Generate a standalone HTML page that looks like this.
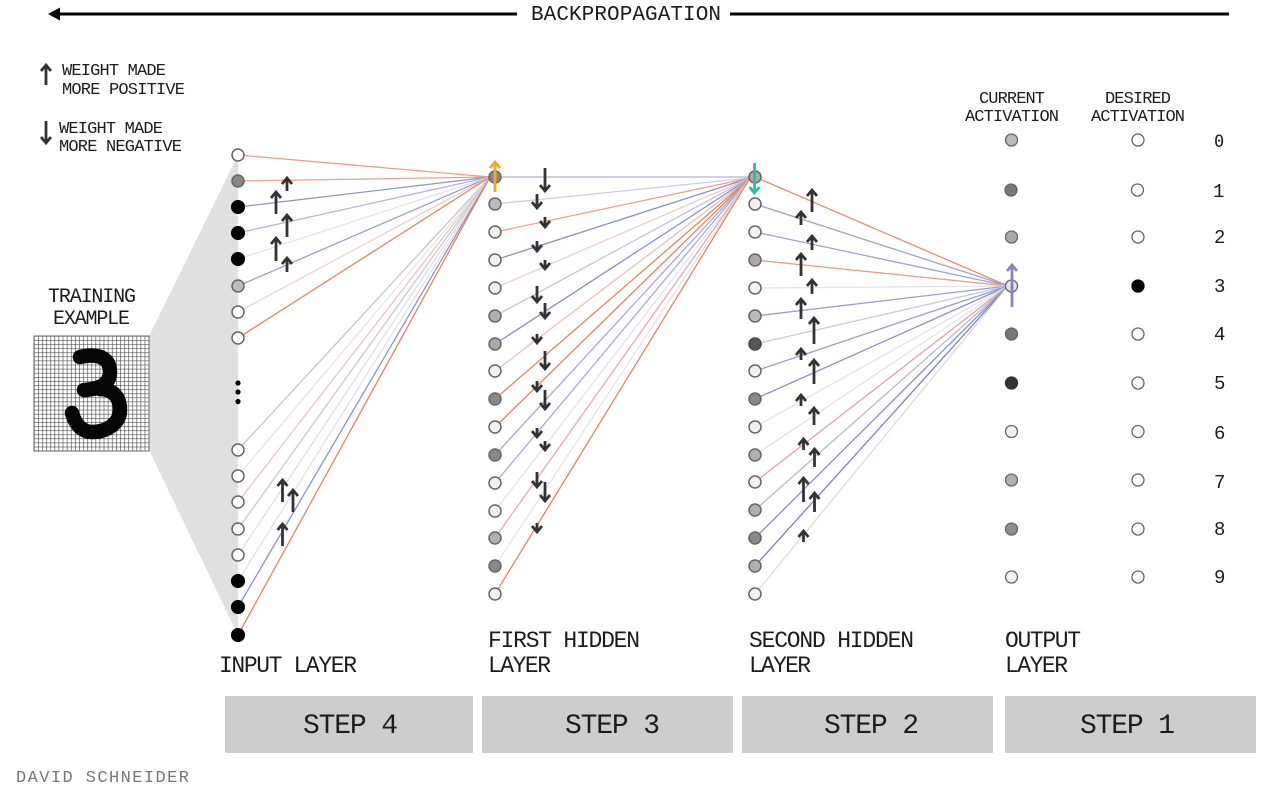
<!DOCTYPE html>
<html><head><meta charset="utf-8"><style>
html,body{margin:0;padding:0;background:#fff}
svg{display:block}
text{font-family:"Liberation Mono","DejaVu Sans Mono",monospace;fill:#1c1c1c}
</style></head><body>
<svg width="1280" height="795" viewBox="0 0 1280 795" xmlns="http://www.w3.org/2000/svg">
<defs>
<pattern id="g" x="34" y="336" width="4.1" height="4.1" patternUnits="userSpaceOnUse">
<rect width="4.1" height="4.1" fill="#fff"/>
<path d="M0 0H4.1M0 0V4.1" stroke="#444" stroke-width="1.2" fill="none"/>
</pattern>
</defs>
<rect width="1280" height="795" fill="#fff"/>

<!-- top arrow -->
<path d="M60 14H517M730 14H1229" stroke="#000" stroke-width="3" fill="none"/>
<polygon points="48,14 60,7.5 60,20.5" fill="#000"/>
<text x="531" y="20" font-size="21" textLength="190" lengthAdjust="spacing">BACKPROPAGATION</text>

<!-- legend -->
<g stroke="#333" stroke-width="2.8" fill="none">
<path d="M46 85V65M41 71L46 65L51 71"/>
<path d="M46 121V143M41 137L46 143L51 137"/>
</g>
<g font-size="17">
<text x="62" y="75" textLength="104" lengthAdjust="spacing">WEIGHT MADE</text>
<text x="62" y="94" textLength="123" lengthAdjust="spacing">MORE POSITIVE</text>
<text x="59" y="133" textLength="104" lengthAdjust="spacing">WEIGHT MADE</text>
<text x="59" y="151" textLength="123" lengthAdjust="spacing">MORE NEGATIVE</text>
</g>

<!-- training example -->
<text x="48" y="302" font-size="20" textLength="88" lengthAdjust="spacing">TRAINING</text>
<text x="53" y="324" font-size="20" textLength="77" lengthAdjust="spacing">EXAMPLE</text>
<polygon points="149,336 238,155 238,635 149,450" fill="#e0e0e1"/>
<rect x="34" y="336" width="115" height="115" fill="url(#g)" stroke="#666" stroke-width="1"/>
<path d="M80 357C92 354 110 354 110 372C110 384 100 389 84 390M100 389C114 389 120 398 120 410C120 424 106 432 92 432C82 432 75 424 72 413" fill="none" stroke="#050505" stroke-width="14.5" stroke-linecap="round" stroke-linejoin="round"/>

<!-- lines: input to first hidden -->
<g fill="none" stroke-width="1.3">
<path stroke="#e8a08a" d="M238 155L490 177"/>
<path stroke="#e9a08c" d="M238 181L490 177"/>
<path stroke="#8e94c4" d="M238 207L490 177"/>
<path stroke="#b5b5d6" d="M238 233L490 177"/>
<path stroke="#e6e2e4" d="M238 259L490 177"/>
<path stroke="#9a9dcb" d="M238 286L490 177"/>
<path stroke="#eccfcc" d="M238 312L490 177"/>
<path stroke="#e08468" d="M238 338L490 177"/>
<path stroke="#c4c4d0" d="M238 450L490 177"/>
<path stroke="#e6e4e6" d="M238 476L490 177"/>
<path stroke="#e8c4c0" d="M238 502L490 177"/>
<path stroke="#c8c8d4" d="M238 529L490 177"/>
<path stroke="#dddde2" d="M238 555L490 177"/>
<path stroke="#e2e0e2" d="M238 581L490 177"/>
<path stroke="#8e94c4" d="M238 607L490 177"/>
<path stroke="#e08468" d="M238 635L490 177"/>
</g>
<!-- lines: first to second hidden -->
<g fill="none" stroke-width="1.3">
<path stroke="#b4b4d4" d="M495 177L750 177"/>
<path stroke="#ccccde" d="M495 204L750 178"/>
<path stroke="#ea9f88" d="M495 232L750 178"/>
<path stroke="#8a90c2" d="M495 260L750 178"/>
<path stroke="#eccfcc" d="M495 288L750 178"/>
<path stroke="#c4c4da" d="M495 316L750 178"/>
<path stroke="#8a90c2" d="M495 344L750 178"/>
<path stroke="#e8c0bc" d="M495 371L750 178"/>
<path stroke="#e08468" d="M495 399L750 178"/>
<path stroke="#e08468" d="M495 427L750 178"/>
<path stroke="#aaaad0" d="M495 455L750 178"/>
<path stroke="#aaaad0" d="M495 483L750 178"/>
<path stroke="#e4e2e4" d="M495 511L750 178"/>
<path stroke="#e0aab0" d="M495 538L750 178"/>
<path stroke="#e6e4e6" d="M495 566L750 178"/>
<path stroke="#e08468" d="M495 594L750 178"/>
</g>
<!-- lines: second hidden to output -->
<g fill="none" stroke-width="1.3">
<path stroke="#e08f78" d="M755 177L1008 286"/>
<path stroke="#a0a0ce" d="M755 204L1008 286"/>
<path stroke="#a0a0ce" d="M755 232L1008 286"/>
<path stroke="#e89a84" d="M755 260L1008 286"/>
<path stroke="#e4e2e8" d="M755 288L1008 286"/>
<path stroke="#9a9ecb" d="M755 316L1008 286"/>
<path stroke="#c8c8dc" d="M755 344L1008 286"/>
<path stroke="#9a9ecb" d="M755 371L1008 286"/>
<path stroke="#8a90c2" d="M755 399L1008 286"/>
<path stroke="#e6e4e6" d="M755 427L1008 286"/>
<path stroke="#e4e2e4" d="M755 455L1008 286"/>
<path stroke="#e0a0a8" d="M755 482L1008 286"/>
<path stroke="#b8b8d0" d="M755 510L1008 286"/>
<path stroke="#8a90c2" d="M755 538L1008 286"/>
<path stroke="#7a80ba" d="M755 566L1008 286"/>
<path stroke="#e6d6d6" d="M755 594L1008 286"/>
</g>

<!-- input nodes -->
<g stroke="#666" stroke-width="1.5">
<circle cx="238" cy="155" r="6" fill="#fff"/>
<circle cx="238" cy="181" r="6" fill="#888"/>
<circle cx="238" cy="207" r="6.3" fill="#000" stroke="#000"/>
<circle cx="238" cy="233" r="6.3" fill="#000" stroke="#000"/>
<circle cx="238" cy="259" r="6.3" fill="#000" stroke="#000"/>
<circle cx="238" cy="286" r="6" fill="#bbb"/>
<circle cx="238" cy="312" r="6" fill="#fff"/>
<circle cx="238" cy="338" r="6" fill="#fff"/>
<circle cx="238" cy="450" r="6" fill="#fff"/>
<circle cx="238" cy="476" r="6" fill="#fff"/>
<circle cx="238" cy="502" r="6" fill="#fff"/>
<circle cx="238" cy="529" r="6" fill="#fff"/>
<circle cx="238" cy="555" r="6" fill="#fff"/>
<circle cx="238" cy="581" r="6.3" fill="#000" stroke="#000"/>
<circle cx="238" cy="607" r="6.3" fill="#000" stroke="#000"/>
<circle cx="238" cy="635" r="6.3" fill="#000" stroke="#000"/>
</g>
<g fill="#000">
<circle cx="238" cy="383" r="2.6"/><circle cx="238" cy="392" r="2.6"/><circle cx="238" cy="401.5" r="2.6"/>
</g>

<!-- first hidden nodes -->
<g stroke="#666" stroke-width="1.5">
<circle cx="495" cy="177" r="6" fill="#888"/>
<circle cx="495" cy="204" r="6" fill="#bbb"/>
<circle cx="495" cy="232" r="6" fill="#f0f0f0"/>
<circle cx="495" cy="260" r="6" fill="#f0f0f0"/>
<circle cx="495" cy="288" r="6" fill="#f0f0f0"/>
<circle cx="495" cy="316" r="6" fill="#b0b0b0"/>
<circle cx="495" cy="344" r="6" fill="#aaa"/>
<circle cx="495" cy="371" r="6" fill="#f0f0f0"/>
<circle cx="495" cy="399" r="6" fill="#888"/>
<circle cx="495" cy="427" r="6" fill="#f0f0f0"/>
<circle cx="495" cy="455" r="6" fill="#888"/>
<circle cx="495" cy="483" r="6" fill="#f0f0f0"/>
<circle cx="495" cy="511" r="6" fill="#f0f0f0"/>
<circle cx="495" cy="538" r="6" fill="#b0b0b0"/>
<circle cx="495" cy="566" r="6" fill="#888"/>
<circle cx="495" cy="594" r="6" fill="#f0f0f0"/>
</g>
<!-- second hidden nodes -->
<g stroke="#666" stroke-width="1.5">
<circle cx="755" cy="177" r="6" fill="#aaa"/>
<circle cx="755" cy="204" r="6" fill="#f0f0f0"/>
<circle cx="755" cy="232" r="6" fill="#f0f0f0"/>
<circle cx="755" cy="260" r="6" fill="#aaa"/>
<circle cx="755" cy="288" r="6" fill="#f0f0f0"/>
<circle cx="755" cy="316" r="6" fill="#bbb"/>
<circle cx="755" cy="344" r="6" fill="#555" stroke="#444"/>
<circle cx="755" cy="371" r="6" fill="#f0f0f0"/>
<circle cx="755" cy="399" r="6" fill="#888"/>
<circle cx="755" cy="427" r="6" fill="#f0f0f0"/>
<circle cx="755" cy="455" r="6" fill="#b0b0b0"/>
<circle cx="755" cy="482" r="6" fill="#f0f0f0"/>
<circle cx="755" cy="510" r="6" fill="#b0b0b0"/>
<circle cx="755" cy="538" r="6" fill="#888"/>
<circle cx="755" cy="566" r="6" fill="#b0b0b0"/>
<circle cx="755" cy="594" r="6" fill="#f0f0f0"/>
</g>
<!-- output nodes -->
<g stroke="#666" stroke-width="1.3">
<circle cx="1011.5" cy="140" r="6" fill="#bbb"/>
<circle cx="1011" cy="190" r="6" fill="#777"/>
<circle cx="1011.5" cy="237" r="6" fill="#aaa"/>
<circle cx="1011.5" cy="286" r="6" fill="#e4e4e4"/>
<circle cx="1011.5" cy="334" r="6" fill="#777"/>
<circle cx="1011.5" cy="383" r="6" fill="#333" stroke="#333"/>
<circle cx="1011.5" cy="431.5" r="6" fill="#f0f0f0"/>
<circle cx="1011.5" cy="480" r="6" fill="#b0b0b0"/>
<circle cx="1011.5" cy="529" r="6" fill="#909090"/>
<circle cx="1011.5" cy="577" r="6" fill="#f0f0f0"/>
<circle cx="1138" cy="140" r="6" fill="#fff"/>
<circle cx="1137.5" cy="190" r="6" fill="#fff"/>
<circle cx="1138" cy="237" r="6" fill="#fff"/>
<circle cx="1138" cy="286" r="6" fill="#000" stroke="#000"/>
<circle cx="1138" cy="334" r="6" fill="#fff"/>
<circle cx="1138" cy="383" r="6" fill="#fff"/>
<circle cx="1138" cy="431.5" r="6" fill="#fff"/>
<circle cx="1138" cy="480" r="6" fill="#fff"/>
<circle cx="1138" cy="529" r="6" fill="#fff"/>
<circle cx="1138" cy="577" r="6" fill="#fff"/>
</g>

<!-- up arrows, input layer -->
<g stroke="#333" stroke-width="2.8" fill="none">
<path d="M287 191V178M282 184L287 178L292 184"/>
<path d="M276 214V192M271 198L276 192L281 198"/>
<path d="M287 237V215M282 221L287 215L292 221"/>
<path d="M276 261V238M271 244L276 238L281 244"/>
<path d="M287 272V258M282 264L287 258L292 264"/>
<path d="M282.5 502V480M277.5 486L282.5 480L287.500 486"/>
<path d="M293 512V490M288 496L293 490L298 496"/>
<path d="M282.5 546V524M277.5 530L282.5 524L287.500 530"/>
</g>
<!-- down arrows, first hidden -->
<g stroke="#333" stroke-width="2.8" fill="none">
<path d="M545 168V191M540 185L545 191L550 185"/>
<path d="M537 194V208M532 202L537 208L542 202"/>
<path d="M545 217V227M540 221L545 227L550 221"/>
<path d="M537 241V251M532 245L537 251L542 245"/>
<path d="M545 260V269M540 263L545 269L550 263"/>
<path d="M537 286V302M532 296L537 302L542 296"/>
<path d="M545 303V318M540 312L545 318L550 312"/>
<path d="M537 334V343M532 337L537 343L542 337"/>
<path d="M545 351V369M540 363L545 369L550 363"/>
<path d="M537 381V391M532 385L537 391L542 385"/>
<path d="M545 390V409M540 403L545 409L550 403"/>
<path d="M537 428V437M532 431L537 437L542 431"/>
<path d="M545 441V450M540 444L545 450L550 444"/>
<path d="M537 472V487M532 481L537 487L542 481"/>
<path d="M545 482V501M540 495L545 501L550 495"/>
<path d="M537 523V532M532 526L537 532L542 526"/>
</g>
<!-- up arrows, second hidden -->
<g stroke="#333" stroke-width="2.8" fill="none">
<path d="M812 212V190M807 196L812 190L817 196"/>
<path d="M801 225V212M796 218L801 212L806 218"/>
<path d="M812 250V236M807 242L812 236L817 242"/>
<path d="M801 276V254M796 260L801 254L806 260"/>
<path d="M812 294V280M807 286L812 280L817 286"/>
<path d="M801 319V299M796 305L801 299L806 305"/>
<path d="M814 344V318M809 324L814 318L819 324"/>
<path d="M801 360V349M796 355L801 349L806 355"/>
<path d="M814 384V360M809 366L814 360L819 366"/>
<path d="M801 406V395M796 401L801 395L806 401"/>
<path d="M814 425V408M809 414L814 408L819 414"/>
<path d="M803.5 450V439M798.5 445L803.5 439L808.5 445"/>
<path d="M814.5 467V449M809.5 455L814.5 449L819.5 455"/>
<path d="M803.5 502V478M798.5 484L803.5 478L808.5 484"/>
<path d="M814.5 512V493M809.5 499L814.5 493L819.5 499"/>
<path d="M803.5 542V531M798.5 537L803.5 531L808.5 537"/>
</g>

<!-- coloured arrows -->
<g fill="none" stroke-width="2.8">
<path stroke="#f5a623" d="M495 192V162M490 168L495 162L500 168"/>
<path stroke="#2bbfa5" d="M754.5 163V193M749.5 187L754.5 193L759.5 187"/>
<path stroke="#8b80c4" d="M1012 307V265M1007 271L1012 265L1017 271"/>
</g>

<!-- activation labels -->
<g font-size="17">
<text x="979" y="103" textLength="66" lengthAdjust="spacing">CURRENT</text>
<text x="965" y="121" textLength="94" lengthAdjust="spacing">ACTIVATION</text>
<text x="1105" y="103" textLength="66" lengthAdjust="spacing">DESIRED</text>
<text x="1091" y="121" textLength="94" lengthAdjust="spacing">ACTIVATION</text>
</g>
<g font-size="19">
<text x="1214" y="147" style="font-family:'DejaVu Sans Mono',monospace" font-size="17">0</text>
<text x="1213" y="197">1</text>
<text x="1214" y="243">2</text>
<text x="1214" y="292">3</text>
<text x="1214" y="340">4</text>
<text x="1214" y="389">5</text>
<text x="1214" y="439">6</text>
<text x="1214" y="488">7</text>
<text x="1214" y="535">8</text>
<text x="1214" y="583">9</text>
</g>

<!-- layer labels -->
<g font-size="23">
<text x="219" y="672" textLength="138" lengthAdjust="spacing">INPUT LAYER</text>
<text x="488" y="647" textLength="152" lengthAdjust="spacing">FIRST HIDDEN</text>
<text x="488" y="672" textLength="63" lengthAdjust="spacing">LAYER</text>
<text x="749" y="647" textLength="165" lengthAdjust="spacing">SECOND HIDDEN</text>
<text x="749" y="672" textLength="62" lengthAdjust="spacing">LAYER</text>
<text x="1005" y="647" textLength="76" lengthAdjust="spacing">OUTPUT</text>
<text x="1005" y="672" textLength="63" lengthAdjust="spacing">LAYER</text>
</g>

<!-- step boxes -->
<g fill="#cdcdcd">
<rect x="225" y="696" width="248" height="57"/>
<rect x="482" y="696" width="251" height="57"/>
<rect x="742" y="696" width="251" height="57"/>
<rect x="1005" y="696" width="251" height="57"/>
</g>
<g font-size="28">
<text x="303" y="733" textLength="95" lengthAdjust="spacing">STEP 4</text>
<text x="565" y="733" textLength="95" lengthAdjust="spacing">STEP 3</text>
<text x="824" y="733" textLength="95" lengthAdjust="spacing">STEP 2</text>
<text x="1080" y="733" textLength="95" lengthAdjust="spacing">STEP 1</text>
</g>

<text x="16" y="782" font-size="17" textLength="173" lengthAdjust="spacing" style="fill:#777">DAVID SCHNEIDER</text>
</svg>
</body></html>
